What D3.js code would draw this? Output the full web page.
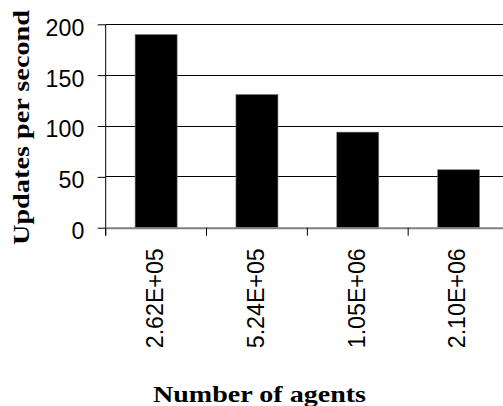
<!DOCTYPE html>
<html><head><meta charset="utf-8">
<script src="https://cdn.jsdelivr.net/npm/d3@7"></script>
<style>html,body{margin:0;padding:0;background:#fff;overflow:hidden}</style>
</head><body>
<svg id="c" width="503" height="406"></svg>
<script>
const categories = ["2.62E+05", "5.24E+05", "1.05E+06", "2.10E+06"];
const values = [190, 131, 94, 57];
const yTicks = [0, 50, 100, 150, 200];
const yTitle = "Updates per second";
const xTitle = "Number of agents";

const svg = d3.select("#c");
const mLeft = 105.7, mRight = 509, mTop = 24.3, mBottom = 227.7;
const x = d3.scaleBand().domain(categories).range([mLeft, mRight]).padding(0);
const y = d3.scaleLinear().domain([0, 200]).range([mBottom, mTop]);
const barFrac = 0.417;

// gridlines
svg.append("g").selectAll("line").data(yTicks.filter(d => d > 0)).join("line")
  .attr("x1", mLeft).attr("x2", mRight)
  .attr("y1", d => y(d)).attr("y2", d => y(d))
  .attr("stroke", "#000").attr("stroke-width", 1).attr("shape-rendering", "crispEdges");

// bars
svg.append("g").selectAll("rect").data(values).join("rect")
  .attr("x", (d, i) => x(categories[i]) + x.bandwidth() * (1 - barFrac) / 2)
  .attr("width", x.bandwidth() * barFrac)
  .attr("y", d => y(d)).attr("height", d => y(0) - y(d))
  .attr("fill", "#000").attr("stroke", "#808080").attr("stroke-width", 0.6);

// x axis
const xAxis = d3.axisBottom(x).tickSize(0).tickFormat("");
const gx = svg.append("g").attr("transform", `translate(0,${mBottom})`).call(xAxis);
gx.select(".domain").attr("stroke", "#808080").attr("stroke-width", 2);
const bounds = categories.map(c => x(c));
svg.append("g").selectAll("line").data(bounds).join("line")
  .attr("x1", d => d).attr("x2", d => d)
  .attr("y1", mBottom).attr("y2", mBottom + 8)
  .attr("stroke", "#000").attr("stroke-width", 1);
svg.append("g").selectAll("text").data(categories).join("text")
  .attr("transform", d => `translate(${x(d) + x.bandwidth() / 2 + 6.8},248.3) rotate(-90)`)
  .attr("text-anchor", "end")
  .attr("font-family", "Liberation Sans, Arial, sans-serif")
  .attr("font-size", 23.2)
  .attr("fill", "#000")
  .text(d => d);

// y axis
const yAxis = d3.axisLeft(y).tickValues(yTicks).tickSize(8).tickPadding(13.4);
const gy = svg.append("g").attr("transform", `translate(${mLeft},0)`).call(yAxis);
gy.select(".domain").attr("stroke", "#000").attr("d", `M0,${mTop}V${mBottom + 8}`);
gy.selectAll(".tick line").attr("stroke", "#000");
gy.selectAll(".tick text").attr("font-family", "Liberation Sans, Arial, sans-serif")
  .attr("font-size", 23.2).attr("fill", "#000").attr("dy", "0.47em");

// titles
svg.append("text")
  .attr("transform", "translate(28.9,127.5) rotate(-90)")
  .attr("text-anchor", "middle")
  .attr("font-family", "Liberation Serif, Times New Roman, serif")
  .attr("font-weight", "bold").attr("font-size", 24)
  .attr("textLength", 235).attr("lengthAdjust", "spacingAndGlyphs")
  .text(yTitle);
svg.append("text")
  .attr("x", 259.5).attr("y", 402)
  .attr("text-anchor", "middle")
  .attr("font-family", "Liberation Serif, Times New Roman, serif")
  .attr("font-weight", "bold").attr("font-size", 24)
  .attr("textLength", 213).attr("lengthAdjust", "spacingAndGlyphs")
  .text(xTitle);
</script>
</body></html>
